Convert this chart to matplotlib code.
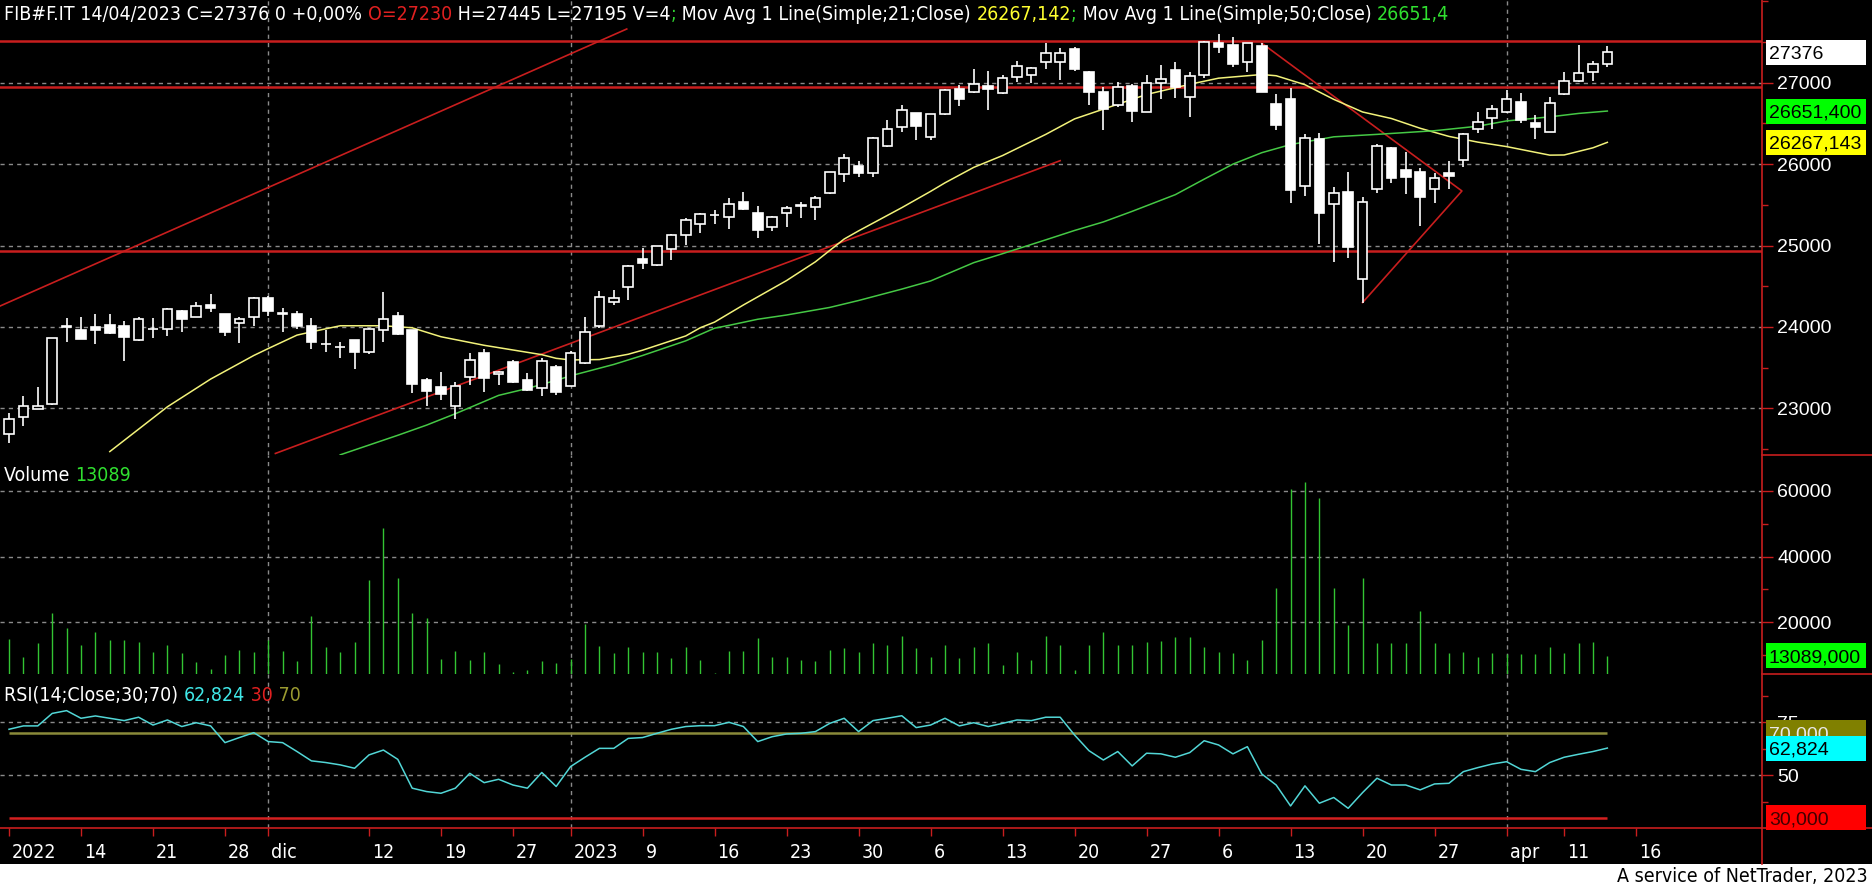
import matplotlib
matplotlib.use("Agg")
import matplotlib.pyplot as plt
from matplotlib import font_manager
from matplotlib.patches import Rectangle
from matplotlib.lines import Line2D
from matplotlib.text import Annotation
from matplotlib.transforms import IdentityTransform

# ---- data (FIB#F.IT, daily) ----
opens = [22680, 22900, 22995, 23060, 24005, 23960, 23995, 24030, 24010, 23845,
         23970, 23970, 24200, 24125, 24275, 24155, 24045, 24120, 24355, 24160,
         24155, 24010, 23785, 23750, 23840, 23695, 23960, 24140, 23960, 23350,
         23265, 23035, 23380, 23685, 23420, 23575, 23355, 23245, 23505, 23275,
         23560, 24015, 24310, 24485, 24830, 24760, 24960, 25125, 25260, 25370,
         25345, 25530, 25395, 25225, 25395, 25490, 25470, 25650, 25875, 25975,
         25885, 26225, 26450, 26625, 26335, 26610, 26920, 26890, 26960, 26870,
         27065, 27100, 27250, 27250, 27410, 27135, 26880, 26720, 26960, 26645,
         26990, 27155, 26820, 27100, 27485, 27465, 27250, 27450, 26740, 26800,
         25725, 26305, 25505, 25655, 24585, 25690, 26195, 25925, 25900, 25700,
         25885, 26050, 26425, 26560, 26635, 26760, 26500, 26400, 26855, 27025,
         27135, 27230]
highs = [22940, 23150, 23260, 23870, 24110, 24125, 24165, 24155, 24075, 24120,
         24110, 24230, 24205, 24310, 24400, 24160, 24125, 24370, 24385, 24230,
         24200, 24110, 23960, 23820, 23845, 23985, 24425, 24185, 23965, 23370,
         23450, 23330, 23675, 23725, 23455, 23600, 23440, 23620, 23535, 23705,
         24125, 24440, 24455, 24760, 24965, 25000, 25140, 25335, 25405, 25435,
         25580, 25655, 25485, 25360, 25485, 25530, 25610, 25900, 26120, 26040,
         26335, 26540, 26725, 26630, 26615, 26920, 26970, 27165, 27145, 27100,
         27265, 27190, 27485, 27420, 27435, 27140, 26950, 27005, 26985, 27100,
         27215, 27250, 27125, 27510, 27600, 27565, 27490, 27485, 26860, 26930,
         26365, 26380, 25715, 25900, 25590, 26245, 26215, 26145, 25955, 25895,
         26040, 26380, 26645, 26725, 26910, 26875, 26605, 26820, 27125, 27465,
         27265, 27445]
lows = [22570, 22785, 22990, 23040, 23810, 23850, 23795, 23910, 23585, 23830,
        23860, 23895, 23940, 24125, 24185, 23895, 23800, 24010, 24135, 23940,
        23975, 23725, 23690, 23620, 23480, 23665, 23820, 23900, 23195, 23030,
        23105, 22870, 23285, 23205, 23285, 23315, 23220, 23150, 23165, 23270,
        23540, 23985, 24270, 24330, 24710, 24750, 24820, 25005, 25160, 25260,
        25205, 25440, 25090, 25180, 25225, 25335, 25315, 25635, 25785, 25845,
        25845, 26215, 26400, 26290, 26290, 26605, 26715, 26870, 26665, 26855,
        27010, 27000, 27170, 27035, 27145, 26725, 26420, 26705, 26520, 26640,
        26800, 26810, 26580, 27060, 27370, 27195, 27125, 26880, 26420, 25525,
        25610, 25025, 24800, 24850, 24300, 25640, 25770, 25630, 25245, 25525,
        25695, 25960, 26380, 26425, 26630, 26500, 26305, 26395, 26850, 27005,
        27020, 27195]
closes = [22870, 23035, 23035, 23860, 24015, 23855, 23965, 23930, 23880, 24095,
          23980, 24215, 24100, 24260, 24235, 23940, 24100, 24350, 24200, 24170,
          24015, 23820, 23795, 23755, 23695, 23970, 24100, 23915, 23300, 23220,
          23175, 23275, 23600, 23375, 23450, 23330, 23225, 23580, 23205, 23685,
          23940, 24370, 24350, 24745, 24790, 24995, 25135, 25315, 25385, 25375,
          25510, 25445, 25190, 25355, 25465, 25495, 25580, 25900, 26070, 25885,
          26315, 26425, 26670, 26470, 26610, 26910, 26795, 26980, 26920, 27060,
          27210, 27185, 27370, 27370, 27165, 26890, 26675, 26950, 26655, 27000,
          27040, 26950, 27085, 27505, 27440, 27230, 27485, 26890, 26480, 25680,
          26315, 25405, 25640, 24985, 25530, 26220, 25835, 25845, 25590, 25835,
          25860, 26365, 26515, 26675, 26795, 26540, 26460, 26745, 27025, 27115,
          27225, 27376]
volumes = [14940, 9570, 13620, 22940, 18380, 13120, 16970, 14640, 14640, 14130,
           11090, 13120, 10790, 8050, 5720, 10080, 11600, 11090, 14640, 11290,
           8360, 21930, 12610, 11090, 14030, 32870, 48570, 33480, 22940, 21420,
           8760, 11290, 8560, 10990, 7340, 4910, 5520, 8150, 7750, 9000,
           19500, 12810, 10790, 12610, 11090, 11090, 9070, 12610, 8560, 4710,
           11290, 11290, 15340, 9370, 9370, 8560, 8360, 11600, 12100, 11090,
           13620, 13120, 15950, 12300, 9570, 13120, 9070, 12610, 13830, 7040,
           11090, 8560, 15950, 13120, 5520, 13120, 17060, 13120, 13120, 14130,
           14330, 15650, 15650, 12610, 11090, 10580, 8560, 14640, 30340, 60410,
           62740, 57700, 30340, 19200, 33580, 13830, 13620, 13830, 23450, 13620,
           10790, 11090, 9570, 10580, 10380, 10380, 10380, 12610, 10580, 13830,
           14030, 9770]
rsi = [71.7, 73.3, 73.3, 79.2, 80.5, 76.9, 78.0, 76.9, 75.8, 77.4,
       73.7, 76.1, 73.0, 74.8, 73.3, 65.4, 67.8, 70.1, 65.9, 65.4,
       61.2, 56.8, 56.0, 54.9, 53.3, 59.6, 61.9, 57.5, 43.9, 42.3,
       41.5, 43.9, 50.9, 46.5, 48.1, 45.4, 43.9, 51.3, 44.7, 54.1,
       58.5, 62.7, 62.7, 67.4, 67.8, 69.8, 71.7, 73.0, 73.4, 73.4,
       75.0, 73.0, 65.9, 68.2, 69.5, 69.8, 70.6, 74.5, 76.9, 70.6,
       75.8, 76.9, 78.1, 72.5, 73.7, 76.9, 73.3, 74.8, 73.0, 74.5,
       76.1, 75.8, 77.4, 77.4, 69.0, 61.6, 57.2, 61.2, 54.4, 60.4,
       60.1, 58.5, 60.7, 66.3, 64.3, 60.1, 63.5, 50.6, 45.4, 35.5,
       45.0, 36.8, 39.5, 34.4, 41.8, 48.6, 45.4, 45.4, 43.1, 45.9,
       46.2, 51.7, 53.6, 55.3, 56.4, 52.8, 51.7, 56.0, 58.5, 59.9,
       61.2, 62.824]

ma21_idx = [7, 11, 14, 17, 18, 20, 21, 23, 26, 28, 30, 33, 37, 38, 39, 41, 43, 44, 47, 48,
            49, 51, 54, 56, 58, 59, 62, 64, 65, 67, 69, 72, 74, 77, 79, 82, 84, 87, 88, 90,
            92, 94, 96, 98, 100, 102, 104, 107, 108, 110, 111]
ma21 = [22470, 23020, 23360, 23650, 23735, 23900, 23940, 24015, 24015, 23990,
        23880, 23775, 23660, 23615, 23595, 23600, 23665, 23715, 23890, 23990,
        24060, 24270, 24570, 24800, 25080, 25180, 25465, 25665, 25770, 25960,
        26105, 26365, 26555, 26735, 26855, 26980, 27055, 27100, 27085, 26975,
        26795, 26640, 26560, 26440, 26340, 26270, 26215, 26110, 26112, 26200,
        26267.143]
ma50_idx = [23, 27, 29, 31, 34, 36, 38, 39, 42, 44, 47, 49, 50, 52, 54, 57, 59, 62, 64, 67,
            69, 72, 74, 76, 78, 81, 83, 85, 87, 89, 92, 95, 99, 102, 104, 107, 109, 111]
ma50 = [22430, 22670, 22795, 22935, 23160, 23245, 23345, 23400, 23540, 23650,
        23830, 23985, 24020, 24095, 24147, 24240, 24325, 24465, 24565, 24790,
        24900, 25070, 25185, 25290, 25420, 25625, 25815, 26000, 26140, 26240,
        26335, 26365, 26410, 26465, 26530, 26580, 26622, 26651.4]

tick_idx = [0, 5, 10, 15, 18, 25, 30, 35, 39, 44, 49, 54, 59, 64, 69, 74, 79, 84, 89, 94,
            99, 104, 108, 113]
tick_labels = ['2022', '14', '21', '28', 'dic', '12', '19', '27', '2023', '9', '16', '23',
               '30', '6', '13', '20', '27', '6', '13', '20', '27', 'apr', '11', '16']
month_idx = [18, 39, 104]

# drawn objects on the price panel
level_lines = [27515, 26950, 24935]
trend1_x, trend1_y = [-0.625, 42.9], [24257, 27659]
trend2_x, trend2_y = [18.5, 73.0], [22447, 26042]
wedge_x, wedge_y = [87, 100.9, 94], [27485, 25670, 24300]

# ---- style ----
W, H = 1872, 888
RED = '#c81e1e'
GRID = '#8a8a8a'
plt.rcParams['font.family'] = ['Liberation Sans', 'DejaVu Sans']
names = {f.name for f in font_manager.fontManager.ttflist}
if 'Liberation Sans Narrow' in names:
    NARROW = {'family': 'Liberation Sans Narrow'}
else:
    NARROW = {'family': 'DejaVu Sans', 'stretch': 'condensed'}

fig = plt.figure(figsize=(W / 100, H / 100), dpi=100, facecolor='white')
fig.add_artist(Rectangle((0, 24 / H), 1, 1 - 24 / H, transform=fig.transFigure,
                         facecolor='black', edgecolor='none', zorder=-10))


def panel(top, bottom, ylim, major, minor):
    ax = fig.add_axes([0, 1 - bottom / H, 1762 / W, (bottom - top) / H])
    ax.set_facecolor('black')
    ax.set_xlim(-0.625, 121.74)
    ax.set_ylim(*ylim)
    for s in ax.spines.values():
        s.set_visible(False)
    ax.yaxis.tick_right()
    ax.set_yticks(major, labels=[str(v) for v in major])
    ax.set_yticks(minor, minor=True)
    ax.tick_params(axis='y', which='major', direction='out', length=8, width=1,
                   color=RED, labelcolor='white', labelsize=14, pad=3)
    ax.tick_params(axis='y', which='minor', direction='out', length=4, width=1, color=RED)
    ax.tick_params(axis='x', which='both', bottom=False, labelbottom=False)
    ax.grid(axis='y', which='major', color=GRID, ls=(0, (3, 3)), lw=1)
    for m in month_idx:
        ax.axvline(m, color=GRID, ls=(0, (3, 3)), lw=1, zorder=1)
    return ax


ax_p = panel(0, 455, (22428, 28015), [23000, 24000, 25000, 26000, 27000],
             [22500, 23500, 24500, 25500, 26500, 27500, 28000])
ax_v = panel(455, 674, (4290, 70870), [20000, 40000, 60000], [10000, 30000, 50000])
ax_r = panel(674, 828, (25.1, 97.8), [50, 75], [37.5, 62.5, 87.5])

# ---- price panel ----
idx = list(range(len(closes)))
for y in level_lines:
    ax_p.axhline(y, color=RED, lw=1.8, zorder=2)
ax_p.plot(trend1_x, trend1_y, color=RED, lw=1.2, zorder=2)
ax_p.plot(trend2_x, trend2_y, color=RED, lw=1.2, zorder=2)
ax_p.plot(wedge_x, wedge_y, color=RED, lw=1.2, zorder=2)
ax_p.plot(ma21_idx, ma21, color='#f2f27a', lw=1.1, zorder=3)
ax_p.plot(ma50_idx, ma50, color='#45c845', lw=1.1, zorder=3)

ax_p.vlines(idx, lows, highs, color='white', lw=1.2, zorder=4)
bottoms = [min(o, c) for o, c in zip(opens, closes)]
heights = [abs(c - o) for o, c in zip(opens, closes)]
faces = ['black' if c >= o else 'white' for o, c in zip(opens, closes)]
ax_p.bar(idx, heights, bottom=bottoms, width=0.66, color=faces, edgecolor='white',
         linewidth=1.2, zorder=5)

# ---- volume panel ----
ax_v.vlines(idx, ax_v.get_ylim()[0], volumes, color='#33c433', lw=1, zorder=3)

# ---- RSI panel ----
ax_r.hlines(70, idx[0], idx[-1], color='#8a8a3a', lw=1.8, zorder=2)
ax_r.hlines(30, idx[0], idx[-1], color='#d42020', lw=1.8, zorder=2)
ax_r.plot(idx, rsi, color='#52d6d6', lw=1.1, zorder=3)
ax_r.set_xticks(tick_idx)
ax_r.tick_params(axis='x', which='major', bottom=True, direction='out', length=6,
                 width=1, color=RED, labelbottom=False)

# ---- frame lines ----
for xs, ys in [([1762, 1762], [0, 864]), ([1762, W], [455, 455]),
               ([1762, W], [674, 674]), ([0, W], [828, 828])]:
    fig.add_artist(Line2D([x / W for x in xs], [1 - y / H for y in ys],
                          transform=fig.transFigure, color=RED, lw=1.2, zorder=2))


def px_text(x, y, s, **kw):
    return fig.text(x / W, 1 - y / H, s, **kw)


# x labels
for i, lab in zip(tick_idx, tick_labels):
    xd = ax_r.transData.transform((i, 0))[0]
    px_text(xd + 3, 852, lab, color='white', fontsize=14, va='center', ha='left', **NARROW)


def chain(x, y, pieces, size=14):
    t = px_text(x, y, pieces[0][0], color=pieces[0][1], fontsize=size, va='center',
                ha='left', zorder=6, **NARROW)
    for s, c in pieces[1:]:
        t = fig.add_artist(Annotation(s, xy=(1, 0), xycoords=t, va='bottom', ha='left',
                                      color=c, fontsize=size, zorder=6, **NARROW))


chain(4, 14, [("FIB#F.IT 14/04/2023 C=27376 0 +0,00% ", 'white'), ("O=27230", '#e02020'),
              (" H=27445 L=27195 V=4", 'white'), (";", '#30d030'),
              (" Mov Avg 1 Line(Simple;21;Close) ", 'white'), ("26267,142", '#ffff30'),
              (";", '#30d030'), (" Mov Avg 1 Line(Simple;50;Close) ", 'white'),
              ("26651,4", '#30e030')])
chain(4, 475, [("Volume ", 'white'), ("13089", '#30e030')])
chain(4, 695, [("RSI(14;Close;30;70) ", 'white'), ("62,824", '#40e8e8'),
               (" 30", '#e02020'), (" 70", '#9a9a30')])


def tag(ax, val, txt, fc, tc, z):
    yd = ax.transData.transform((0, val))[1]
    fig.add_artist(Rectangle((1766, yd - 12.5), 100, 25, transform=IdentityTransform(),
                             facecolor=fc, edgecolor='none', zorder=z))
    fig.text(1769, yd, txt, transform=IdentityTransform(), color=tc, fontsize=14,
             va='center_baseline', ha='left', zorder=z + 0.5)


def fmt3(v):
    return f"{v:.3f}".replace('.', ',')


tag(ax_p, closes[-1], str(closes[-1]), 'white', 'black', 5)
tag(ax_p, ma50[-1], fmt3(ma50[-1]), '#00ff00', 'black', 5)
tag(ax_p, ma21[-1], fmt3(ma21[-1]), '#ffff00', 'black', 5)
tag(ax_v, volumes[-1], "13089,000", '#00ff00', 'black', 5)
tag(ax_r, 70, fmt3(70), '#808000', '#e8e8e8', 5)
tag(ax_r, rsi[-1], fmt3(rsi[-1]), '#00ffff', 'black', 7)
tag(ax_r, 30, fmt3(30), '#ff0000', '#400000', 5)

px_text(1868, 876, "A service of NetTrader, 2023", color='black', fontsize=14,
        va='center', ha='right', **NARROW)

fig.savefig('out.png', dpi=100, facecolor='white')
